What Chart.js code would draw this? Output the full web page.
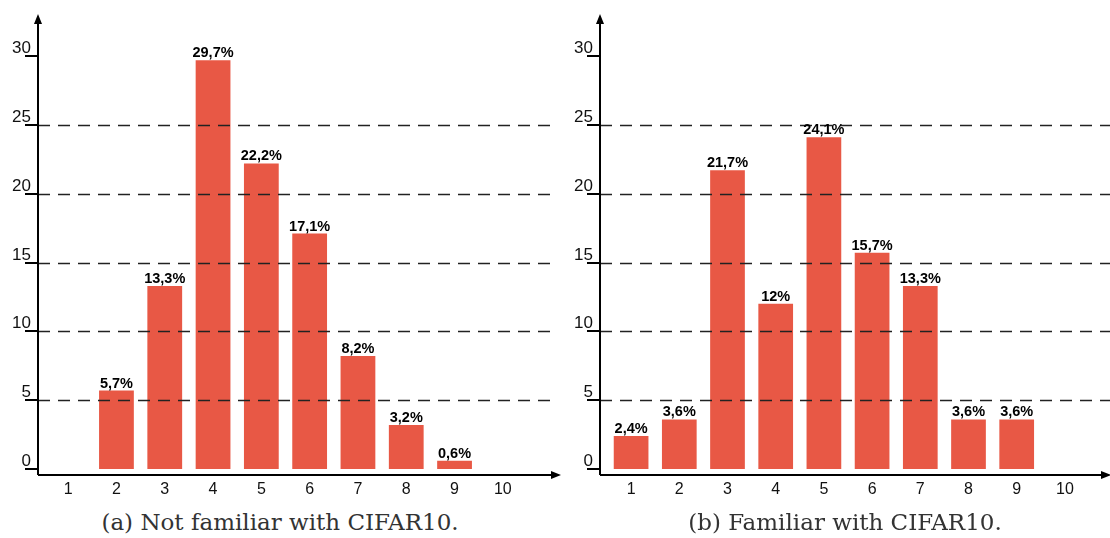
<!DOCTYPE html>
<html>
<head>
<meta charset="utf-8">
<script src="https://cdn.jsdelivr.net/npm/chart.js@4"></script>
<style>
  body { margin: 0; background: #fff; width: 1110px; height: 538px; position: relative; overflow: hidden; }
  .box { position: absolute; top: 0; height: 500px; }
  .caption { position: absolute; top: 509px; font-family: "DejaVu Serif", "Liberation Serif", serif; font-size: 23px; color: #333; text-align: center; white-space: nowrap; }
</style>
</head>
<body>
<div class="box" style="left:0;width:565px"><canvas id="leftChart"></canvas></div>
<div class="box" style="left:560px;width:550px"><canvas id="rightChart"></canvas></div>
<div class="caption" style="left:80px;width:400px">(a) Not familiar with CIFAR10.</div>
<div class="caption" style="left:645px;width:400px">(b) Familiar with CIFAR10.</div>
<script>
  const categories = ['1', '2', '3', '4', '5', '6', '7', '8', '9', '10'];
  const yTicks = [0, 5, 10, 15, 20, 25, 30];
  const notFamiliar = [null, 5.7, 13.3, 29.7, 22.2, 17.1, 8.2, 3.2, 0.6, null];
  const notFamiliarLabels = ['', '5,7%', '13,3%', '29,7%', '22,2%', '17,1%', '8,2%', '3,2%', '0,6%', ''];
  const familiar = [2.4, 3.6, 21.7, 12, 24.1, 15.7, 13.3, 3.6, 3.6, null];
  const familiarLabels = ['2,4%', '3,6%', '21,7%', '12%', '24,1%', '15,7%', '13,3%', '3,6%', '3,6%', ''];

  const barColor = '#E85845';

  // axes, arrows, dashed grid, tick labels and value labels
  const axesPlugin = {
    id: 'axesPlugin',
    afterDraw(chart, args, opts) {
      const ctx = chart.ctx;
      const x = chart.scales.x, y = chart.scales.y;
      const axisX = opts.axisX;
      const axisY = y.getPixelForValue(0) + 6;
      ctx.save();

      // dashed grid
      ctx.strokeStyle = '#222';
      ctx.lineWidth = 1.5;
      ctx.setLineDash([12, 8]);
      yTicks.forEach(v => {
        if (v === 0 || v === 30) return;
        const py = Math.round(y.getPixelForValue(v)) + 0.5;
        ctx.beginPath();
        ctx.moveTo(axisX, py);
        ctx.lineTo(opts.gridEnd, py);
        ctx.stroke();
      });
      ctx.setLineDash([]);

      // tick marks and labels
      ctx.strokeStyle = '#000';
      ctx.lineWidth = 2;
      ctx.fillStyle = '#111';
      ctx.font = '17px "Liberation Sans", Arial, sans-serif';
      ctx.textAlign = 'right';
      ctx.textBaseline = 'alphabetic';
      yTicks.forEach(v => {
        const py = Math.round(y.getPixelForValue(v));
        ctx.beginPath();
        ctx.moveTo(axisX - 13, py);
        ctx.lineTo(axisX, py);
        ctx.stroke();
        ctx.fillText(String(v), axisX - 7, py - 3);
      });

      // axes
      ctx.lineWidth = 2;
      ctx.beginPath();
      ctx.moveTo(axisX, axisY);
      ctx.lineTo(axisX, 22);
      ctx.moveTo(axisX, axisY);
      ctx.lineTo(opts.arrowEnd - 8, axisY);
      ctx.stroke();
      ctx.fillStyle = '#000';
      ctx.beginPath();
      ctx.moveTo(axisX, 14);
      ctx.lineTo(axisX - 4, 24);
      ctx.lineTo(axisX + 4, 24);
      ctx.closePath();
      ctx.fill();
      ctx.beginPath();
      ctx.moveTo(opts.arrowEnd, axisY);
      ctx.lineTo(opts.arrowEnd - 10, axisY - 4);
      ctx.lineTo(opts.arrowEnd - 10, axisY + 4);
      ctx.closePath();
      ctx.fill();

      // category labels
      ctx.fillStyle = '#111';
      ctx.font = '16px "Liberation Sans", Arial, sans-serif';
      ctx.textAlign = 'center';
      ctx.textBaseline = 'middle';
      categories.forEach((c, i) => {
        ctx.fillText(c, x.getPixelForValue(i), 490);
      });

      // value labels
      const meta = chart.getDatasetMeta(0);
      ctx.fillStyle = '#000';
      ctx.font = 'bold 14.5px "Liberation Sans", Arial, sans-serif';
      ctx.textBaseline = 'alphabetic';
      meta.data.forEach((bar, i) => {
        const txt = opts.labels[i];
        if (!txt) return;
        ctx.fillText(txt, bar.x, bar.y - 3);
      });
      ctx.restore();
    }
  };

  function makeChart(id, values, labels, padding, axisX, gridEnd, arrowEnd) {
    return new Chart(document.getElementById(id), {
      type: 'bar',
      data: {
        labels: categories,
        datasets: [{
          data: values,
          backgroundColor: barColor,
          borderWidth: 0,
          categoryPercentage: 1,
          barPercentage: 0.72
        }]
      },
      options: {
        responsive: true,
        maintainAspectRatio: false,
        animation: false,
        layout: { padding: padding },
        plugins: {
          legend: { display: false },
          tooltip: { enabled: false },
          axesPlugin: { labels: labels, axisX: axisX, gridEnd: gridEnd, arrowEnd: arrowEnd }
        },
        scales: {
          x: { display: false },
          y: { display: false, min: 0, max: 30 }
        }
      },
      plugins: [axesPlugin]
    });
  }

  makeChart('leftChart', notFamiliar, notFamiliarLabels,
    { left: 44, right: 38, top: 56, bottom: 31 }, 38, 552, 561);
  makeChart('rightChart', familiar, familiarLabels,
    { left: 47, right: 21, top: 56, bottom: 31 }, 40, 550, 551);
</script>
</body>
</html>
